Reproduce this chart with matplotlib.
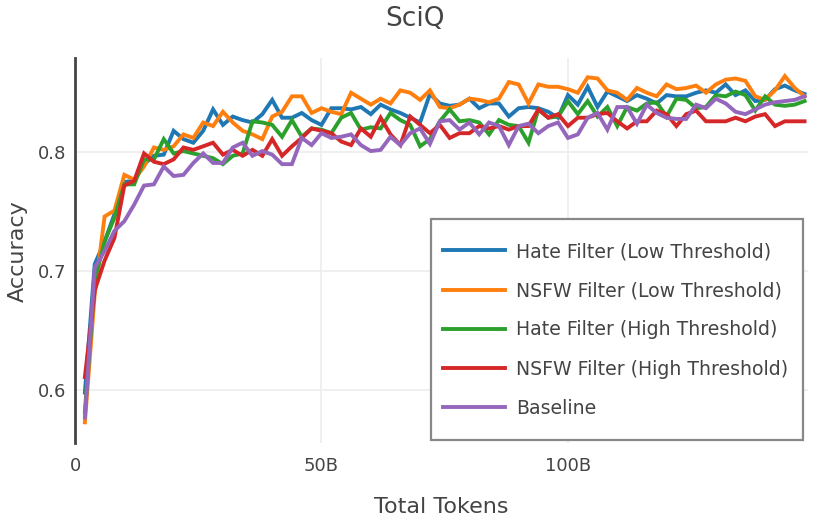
import matplotlib
matplotlib.use("Agg")
import matplotlib.pyplot as plt
from matplotlib.patches import Rectangle

# tokens seen (billions) at each checkpoint
tokens_b = [2, 4, 6, 8, 10, 12, 14, 16, 18, 20,
            22, 24, 26, 28, 30, 32, 34, 36, 38, 40,
            42, 44, 46, 48, 50, 52, 54, 56, 58, 60,
            62, 64, 66, 68, 70, 72, 74, 76, 78, 80,
            82, 84, 86, 88, 90, 92, 94, 96, 98, 100,
            102, 104, 106, 108, 110, 112, 114, 116, 118, 120,
            122, 124, 126, 128, 130, 132, 134, 136, 138, 140,
            142, 144, 146, 148]

hate_low = [0.598, 0.706, 0.725, 0.748, 0.775, 0.776, 0.790, 0.797, 0.798, 0.818,
            0.811, 0.808, 0.818, 0.836, 0.823, 0.830, 0.827, 0.825, 0.832, 0.844,
            0.829, 0.829, 0.833, 0.827, 0.823, 0.837, 0.837, 0.836, 0.838, 0.832,
            0.840, 0.836, 0.833, 0.829, 0.825, 0.849, 0.841, 0.839, 0.840, 0.845,
            0.837, 0.841, 0.841, 0.830, 0.837, 0.838, 0.837, 0.834, 0.829, 0.848,
            0.840, 0.855, 0.838, 0.851, 0.847, 0.843, 0.848, 0.845, 0.841, 0.848,
            0.847, 0.847, 0.850, 0.852, 0.850, 0.857, 0.848, 0.852, 0.843, 0.844,
            0.853, 0.856, 0.852, 0.849]

nsfw_low = [0.573, 0.681, 0.746, 0.751, 0.781, 0.777, 0.788, 0.804, 0.802, 0.805,
            0.815, 0.812, 0.825, 0.822, 0.834, 0.825, 0.818, 0.815, 0.811, 0.830,
            0.834, 0.847, 0.847, 0.833, 0.837, 0.834, 0.832, 0.850, 0.845, 0.840,
            0.845, 0.841, 0.852, 0.850, 0.844, 0.852, 0.838, 0.837, 0.840, 0.845,
            0.844, 0.842, 0.845, 0.859, 0.857, 0.841, 0.857, 0.855, 0.855, 0.853,
            0.850, 0.863, 0.862, 0.852, 0.850, 0.844, 0.854, 0.850, 0.847, 0.857,
            0.853, 0.854, 0.856, 0.850, 0.857, 0.861, 0.862, 0.860, 0.847, 0.844,
            0.852, 0.864, 0.854, 0.847]

hate_high = [0.582, 0.692, 0.725, 0.745, 0.773, 0.773, 0.794, 0.794, 0.811, 0.799,
             0.801, 0.799, 0.797, 0.795, 0.790, 0.797, 0.799, 0.826, 0.825, 0.823,
             0.813, 0.827, 0.813, 0.820, 0.819, 0.816, 0.829, 0.833, 0.819, 0.821,
             0.820, 0.833, 0.827, 0.823, 0.805, 0.811, 0.826, 0.836, 0.826, 0.827,
             0.825, 0.815, 0.827, 0.823, 0.822, 0.808, 0.836, 0.829, 0.830, 0.843,
             0.832, 0.843, 0.830, 0.838, 0.822, 0.838, 0.835, 0.841, 0.842, 0.830,
             0.845, 0.844, 0.837, 0.838, 0.848, 0.847, 0.851, 0.848, 0.835, 0.847,
             0.840, 0.839, 0.840, 0.843]

nsfw_high = [0.611, 0.684, 0.709, 0.728, 0.772, 0.776, 0.799, 0.792, 0.790, 0.794,
             0.804, 0.802, 0.805, 0.808, 0.798, 0.802, 0.797, 0.802, 0.797, 0.811,
             0.797, 0.805, 0.812, 0.820, 0.818, 0.816, 0.809, 0.806, 0.820, 0.813,
             0.829, 0.815, 0.806, 0.830, 0.823, 0.816, 0.823, 0.812, 0.816, 0.816,
             0.822, 0.820, 0.822, 0.819, 0.822, 0.822, 0.836, 0.829, 0.832, 0.822,
             0.829, 0.829, 0.832, 0.833, 0.826, 0.820, 0.826, 0.826, 0.835, 0.832,
             0.822, 0.832, 0.835, 0.826, 0.826, 0.826, 0.829, 0.826, 0.830, 0.832,
             0.822, 0.826, 0.826, 0.826]

baseline = [0.577, 0.703, 0.717, 0.734, 0.742, 0.756, 0.772, 0.773, 0.788, 0.780,
            0.781, 0.791, 0.799, 0.791, 0.791, 0.804, 0.808, 0.797, 0.801, 0.798,
            0.790, 0.790, 0.812, 0.806, 0.816, 0.812, 0.813, 0.815, 0.806, 0.801,
            0.802, 0.813, 0.806, 0.816, 0.820, 0.807, 0.826, 0.827, 0.819, 0.825,
            0.815, 0.825, 0.822, 0.806, 0.822, 0.824, 0.816, 0.822, 0.825, 0.812,
            0.815, 0.829, 0.833, 0.819, 0.838, 0.838, 0.824, 0.840, 0.833, 0.829,
            0.828, 0.828, 0.840, 0.837, 0.845, 0.841, 0.834, 0.832, 0.836, 0.840,
            0.842, 0.843, 0.844, 0.847]

series = [
    ("Hate Filter (Low Threshold)", hate_low, "#1f77b4"),
    ("NSFW Filter (Low Threshold)", nsfw_low, "#ff7f0e"),
    ("Hate Filter (High Threshold)", hate_high, "#2ca02c"),
    ("NSFW Filter (High Threshold)", nsfw_high, "#d62728"),
    ("Baseline", baseline, "#9467bd"),
]

x_ticks = [0, 50, 100]
x_tick_labels = ["0", "50B", "100B"]
y_ticks = [0.6, 0.7, 0.8]
y_tick_labels = ["0.6", "0.7", "0.8"]

txt = "#444444"
plt.rcParams["font.family"] = ["DejaVu Sans"]

fig, ax = plt.subplots(figsize=(8.3, 5.2), dpi=100)
fig.subplots_adjust(left=0.0904, right=0.9735, bottom=0.148, top=0.888)

for name, vals, col in series:
    ax.plot(tokens_b, vals, color=col, lw=2.8, label=name, solid_joinstyle="miter")

ax.set_xlim(0, 148.7)
ax.set_ylim(0.5556, 0.879)
ax.set_xticks(x_ticks)
ax.set_xticklabels(x_tick_labels)
ax.set_yticks(y_ticks)
ax.set_yticklabels(y_tick_labels)
ax.tick_params(length=0, labelsize=13, colors=txt)
ax.tick_params(axis="x", pad=10)
ax.tick_params(axis="y", pad=6.5)

ax.grid(color="#eeeeee", lw=1.3)
ax.set_axisbelow(True)
for s in ["top", "right", "bottom"]:
    ax.spines[s].set_visible(False)
ax.spines["left"].set_color(txt)
ax.spines["left"].set_linewidth(2)

ax.set_xlabel("Total Tokens", fontsize=16, color=txt)
ax.xaxis.set_label_coords(0.5, -0.166)
ax.xaxis.label.set_va("center")
ax.set_ylabel("Accuracy", fontsize=16, color=txt)
ax.yaxis.set_label_coords(-0.078, 0.5)
ax.yaxis.label.set_va("center")

fig.text(0.5, 1 - 19 / 520, "SciQ", ha="center", va="center", fontsize=19, color=txt)

# legend box
W, H = 830, 520
box = Rectangle((431 / W, 1 - 440 / H), 372 / W, 221 / H,
                transform=fig.transFigure, facecolor="white",
                edgecolor="#888888", lw=1.6, zorder=5, clip_on=False)
ax.add_patch(box)
leg = ax.legend(loc="upper left", bbox_to_anchor=(443 / W, 1 - 242 / H),
                bbox_transform=fig.transFigure, frameon=False, fontsize=13.6,
                borderpad=0, borderaxespad=0, handlelength=3.3, handletextpad=0.58,
                labelspacing=1.07)
leg.set_zorder(6)
for t in leg.get_texts():
    t.set_color(txt)

fig.savefig("out.png", dpi=100)
